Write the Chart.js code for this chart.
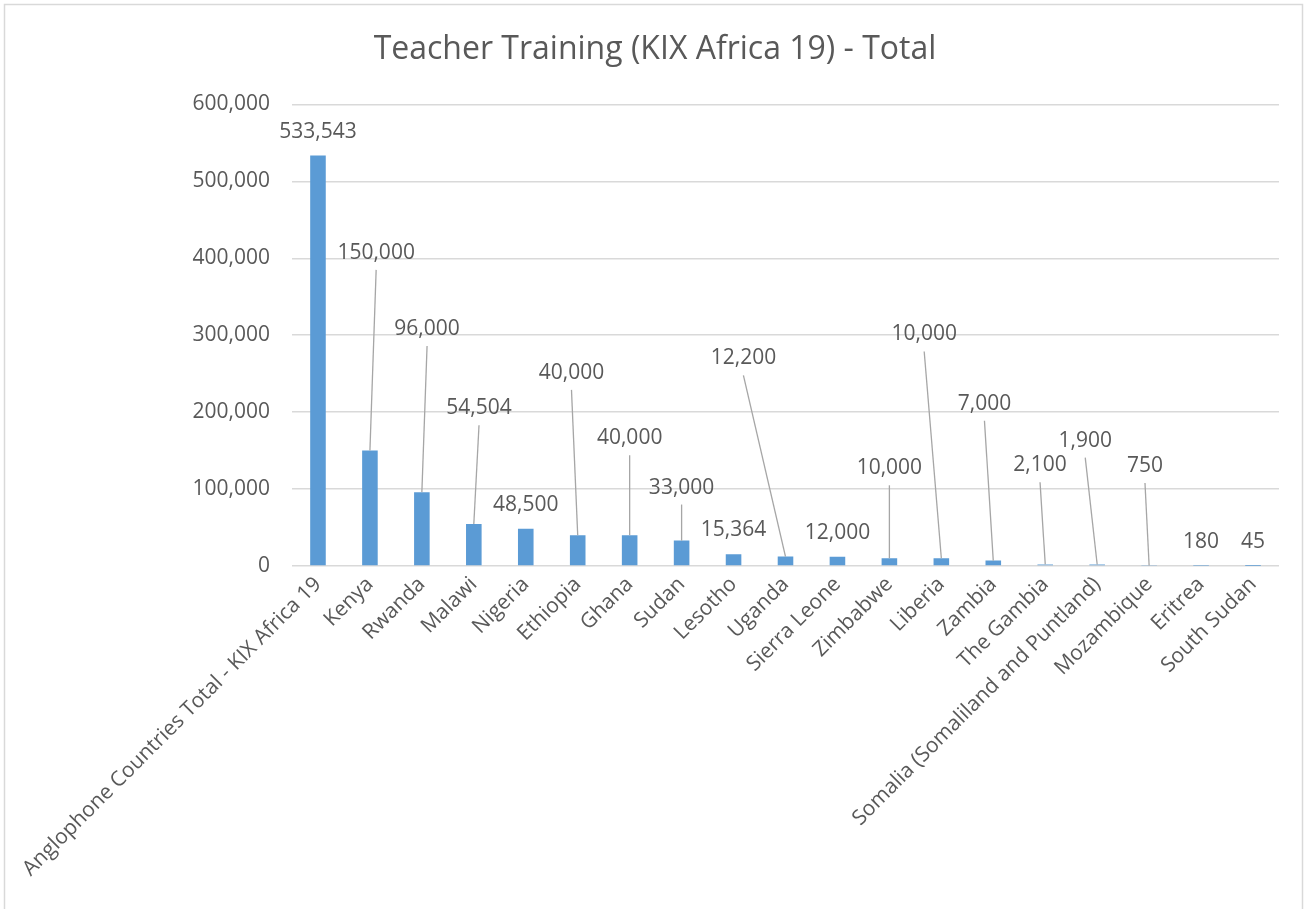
<!DOCTYPE html>
<html>
<head>
<meta charset="utf-8">
<script src="https://cdn.jsdelivr.net/npm/chart.js@4.4.1/dist/chart.umd.min.js"></script>
<style>
  html, body { margin: 0; padding: 0; background: #ffffff; }
  #wrap { position: relative; width: 1307px; height: 909px; }
</style>
</head>
<body>
<div id="wrap"><canvas id="teacher_chart"></canvas></div>
<script>
const countries = [
  "Anglophone Countries Total - KIX Africa 19", "Kenya", "Rwanda", "Malawi", "Nigeria",
  "Ethiopia", "Ghana", "Sudan", "Lesotho", "Uganda", "Sierra Leone", "Zimbabwe",
  "Liberia", "Zambia", "The Gambia", "Somalia (Somaliland and Puntland)", "Mozambique",
  "Eritrea", "South Sudan"
];
const teachers_trained = [
  533543, 150000, 96000, 54504, 48500, 40000, 40000, 33000, 15364, 12200, 12000,
  10000, 10000, 7000, 2100, 1900, 750, 180, 45
];
const y_ticks = [0, 100000, 200000, 300000, 400000, 500000, 600000];

// labels that were dragged away from their bar in the original (value level, shift in categories)
const moved_labels = {
  1: [407000, 0.12], 2: [308000, 0.1], 3: [205000, 0.1], 5: [251000, -0.12],
  6: [166000, 0], 7: [102000, 0], 9: [270000, -0.81], 11: [127000, 0],
  12: [301000, -0.33], 13: [211000, -0.17], 14: [131000, -0.1], 15: [163000, -0.23],
  16: [130000, -0.08]
};

const text_colour = "#595959";
const font_family = "'Open Sans', 'Noto Sans', sans-serif";

const chartBorder = {
  id: "chartBorder",
  beforeDraw(chart) {
    const ctx = chart.ctx;
    ctx.save();
    ctx.fillStyle = "#ffffff";
    ctx.fillRect(0, 0, chart.width, chart.height);
    ctx.strokeStyle = "#d9d9d9";
    ctx.lineWidth = 1.5;
    ctx.strokeRect(4.5, 4.5, 1298, 930);
    ctx.restore();
  }
};

const valueLabels = {
  id: "valueLabels",
  afterDatasetsDraw(chart) {
    const ctx = chart.ctx;
    const meta = chart.getDatasetMeta(0);
    const xs = chart.scales.x;
    const ys = chart.scales.y;
    const step = xs.getPixelForValue(1) - xs.getPixelForValue(0);
    ctx.save();
    ctx.font = "21px " + font_family;
    ctx.fillStyle = text_colour;
    ctx.textAlign = "center";
    ctx.textBaseline = "middle";
    meta.data.forEach((bar, i) => {
      const txt = teachers_trained[i].toLocaleString("en-US");
      const moved = moved_labels[i];
      if (!moved) {
        ctx.fillText(txt, bar.x, bar.y - 24);
        return;
      }
      const lx = bar.x + moved[1] * step;
      const ly = ys.getPixelForValue(moved[0]);
      ctx.strokeStyle = "#a6a6a6";
      ctx.lineWidth = 1.3;
      ctx.beginPath();
      ctx.moveTo(lx, ly + 17);
      ctx.lineTo(bar.x, bar.y);
      ctx.stroke();
      ctx.fillText(txt, lx, ly);
    });
    ctx.restore();
  }
};

const config = {
  type: "bar",
  data: {
    labels: countries,
    datasets: [{
      label: "Total",
      data: teachers_trained,
      backgroundColor: "#5b9bd5",
      borderWidth: 0,
      barPercentage: 0.3,
      categoryPercentage: 1
    }]
  },
  options: {
    responsive: true,
    maintainAspectRatio: false,
    animation: false,
    layout: { padding: { left: 31, right: 28, top: 0, bottom: 0 } },
    scales: {
      x: {
        grid: { display: false, drawTicks: false },
        border: { display: false },
        ticks: {
          color: text_colour,
          font: { family: font_family, size: 21 },
          maxRotation: 45,
          minRotation: 45,
          autoSkip: false,
          padding: 6
        },
        afterFit(scale) {
          scale.height = 909 - 566;
          scale.paddingLeft = 0;
          scale.paddingRight = 0;
        }
      },
      y: {
        min: 0,
        max: 600000,
        afterBuildTicks(scale) {
          scale.ticks = y_ticks.map(v => ({ value: v }));
        },
        grid: { color: "#d9d9d9", lineWidth: 1.5, drawTicks: false },
        border: { display: false },
        ticks: {
          color: text_colour,
          font: { family: font_family, size: 21 },
          padding: 22,
          callback: v => Number(v).toLocaleString("en-US")
        },
        afterFit(scale) {
          scale.width = 261;
        }
      }
    },
    plugins: {
      legend: { display: false },
      tooltip: { enabled: false },
      title: {
        display: true,
        text: "Teacher Training (KIX Africa 19) - Total",
        color: text_colour,
        font: { family: font_family, size: 32, weight: "normal" },
        padding: { top: 31, bottom: 35 }
      }
    }
  },
  plugins: [chartBorder, valueLabels]
};

const ctx_bar = document.getElementById("teacher_chart").getContext("2d");
new Chart(ctx_bar, config);
</script>
</body>
</html>
